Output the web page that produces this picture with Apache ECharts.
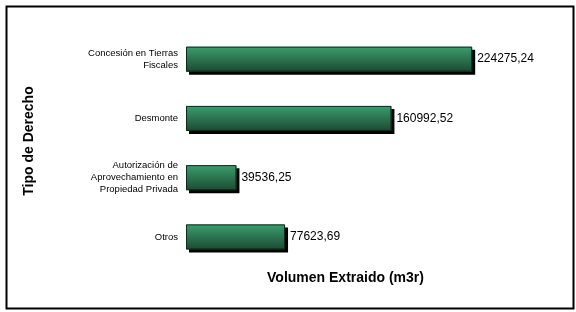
<!DOCTYPE html>
<html>
<head>
<meta charset="utf-8">
<script src="https://cdn.jsdelivr.net/npm/echarts@6/dist/echarts.min.js"></script>
<style>html,body{margin:0;padding:0;background:#fff}#c{width:576px;height:312px}</style>
</head>
<body>
<div id="c"></div>
<script>
const categories = ["Concesión en Tierras\nFiscales", "Desmonte", "Autorización de\nAprovechamiento en\nPropiedad Privada", "Otros"];
const values = [224275.24, 160992.52, 39536.25, 77623.69];
const xTitle = "Volumen Extraido (m3r)";
const yTitle = "Tipo de Derecho";

const fmt = v => v.toFixed(2).replace('.', ',');
const chart = echarts.init(document.getElementById('c'));
chart.setOption({
  animation: false,
  backgroundColor: '#fff',
  textStyle: { fontFamily: 'Liberation Sans, Arial, sans-serif' },
  graphic: [{
    type: 'rect', left: 4, top: 4,
    shape: { width: 567, height: 302 },
    style: { fill: 'none', stroke: '#000', lineWidth: 2 }, silent: true
  }, {
    type: 'text', x: 29, y: 141, rotation: Math.PI / 2,
    style: { text: yTitle, fontSize: 14, fontWeight: 'bold', fill: '#000', align: 'center', verticalAlign: 'middle',
      fontFamily: 'Liberation Sans, Arial, sans-serif' }, silent: true
  }],
  grid: { left: 186, right: 71, top: 29.5, bottom: 45.5, containLabel: false },
  xAxis: {
    type: 'value', min: 0, max: 250000,
    axisLine: { show: false }, axisTick: { show: false }, axisLabel: { show: false }, splitLine: { show: false },
    name: xTitle, nameLocation: 'middle', nameGap: 4.5,
    nameTextStyle: { fontSize: 14, fontWeight: 'bold', color: '#000', verticalAlign: 'top' }
  },
  yAxis: {
    type: 'category', data: categories, inverse: true,
    axisLine: { show: false }, axisTick: { show: false }, splitLine: { show: false },
    axisLabel: { fontSize: 9.5, color: '#000', margin: 8, align: 'right', lineHeight: 12 }
  },
  series: [{
    type: 'bar', data: values, barWidth: 25,
    itemStyle: {
      color: new echarts.graphic.LinearGradient(0, 0, 0, 1, [
        { offset: 0, color: '#3a9e6e' }, { offset: 1, color: '#1c4a32' }
      ]),
      borderWidth: 0,
      shadowColor: '#000', shadowOffsetX: 3, shadowOffsetY: 3, shadowBlur: 0
    },
    label: {
      show: true, position: 'right', distance: 5, fontSize: 12, color: '#000',
      formatter: p => fmt(p.value)
    }
  }, {
    type: 'bar', data: values, barWidth: 25, barGap: '-100%', silent: true,
    itemStyle: { color: 'rgba(0,0,0,0)', borderColor: '#0b2a1a', borderWidth: 1 }
  }]
});
</script>
</body>
</html>
